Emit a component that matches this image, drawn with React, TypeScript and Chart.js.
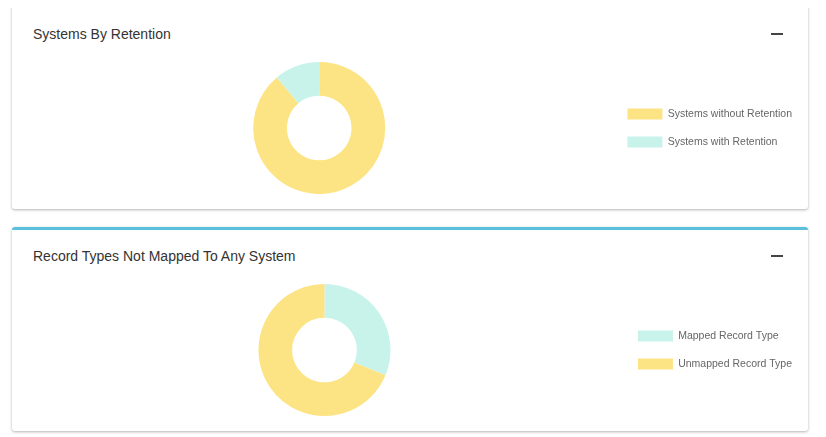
import React, { useEffect, useRef } from "react";
import { Chart, registerables } from "chart.js";
Chart.register(...registerables);

const labels1 = ["Systems without Retention", "Systems with Retention"];
const values1 = [8, 1];
const colors1 = ["#fce484", "#c8f3ea"];

const labels2 = ["Mapped Record Type", "Unmapped Record Type"];
const values2 = [5, 11];
const colors2 = ["#c8f3ea", "#fce484"];

function Donut({ labels, values, colors }: { labels: string[]; values: number[]; colors: string[] }) {
  const ref = useRef<HTMLCanvasElement>(null);
  useEffect(() => {
    const c = new Chart(ref.current!, {
      type: "doughnut",
      data: { labels, datasets: [{ data: values, backgroundColor: colors, borderWidth: 0 }] },
      options: {
        animation: false,
        responsive: true,
        maintainAspectRatio: false,
        cutout: "49%",
        layout: { padding: { top: 4, bottom: 4 } },
        plugins: {
          tooltip: { enabled: false },
          legend: {
            position: "right",
            labels: {
              boxWidth: 35,
              boxHeight: 11,
              padding: 17,
              color: "#666",
              font: { family: "'Liberation Sans', Arial", size: 10.5 },
            },
          },
        },
      },
    });
    return () => c.destroy();
  }, []);
  return (
    <div style={{ position: "relative", height: 140, margin: "0 6px 0 16px" }}>
      <canvas ref={ref} />
    </div>
  );
}

function Card({ title, children, top }: { title: string; children: React.ReactNode; top: number }) {
  return (
    <div
      style={{
        marginTop: top,
        marginLeft: 4,
        width: 796,
        height: 201,
        background: "#fff",
        borderTop: "3px solid #5bc0de",
        borderRadius: 3,
        boxShadow: "0 1px 3px rgba(0,0,0,0.3)",
        position: "relative",
        boxSizing: "content-box",
      }}
    >
      <div
        style={{
          position: "absolute",
          left: 21,
          top: 18,
          fontFamily: "'Liberation Sans', Arial",
          fontSize: 14,
          color: "#333",
        }}
      >
        {title}
      </div>
      <div style={{ position: "absolute", left: 759, top: 25, width: 12, height: 2, background: "#444" }} />
      <div style={{ position: "absolute", left: 0, right: 0, top: 50 }}>{children}</div>
    </div>
  );
}

export default function App() {
  return (
    <div style={{ position: "relative", top: -3, display: "flow-root" }}>
      <Card title="Systems By Retention" top={0}>
        <Donut labels={labels1} values={values1} colors={colors1} />
      </Card>
      <Card title="Record Types Not Mapped To Any System" top={18}>
        <Donut labels={labels2} values={values2} colors={colors2} />
      </Card>
    </div>
  );
}
